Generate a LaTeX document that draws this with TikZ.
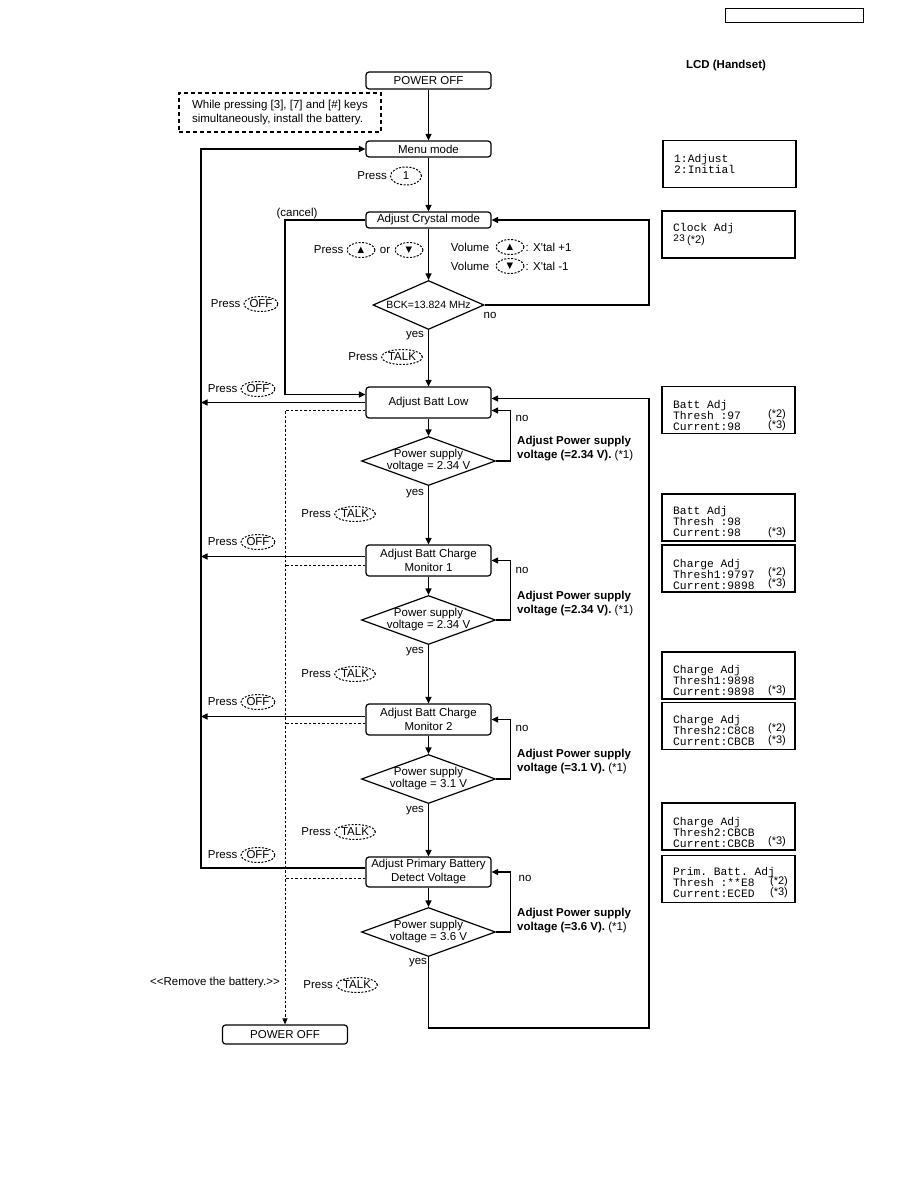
\documentclass[tikz,border=0pt]{standalone}
\usepackage{fontspec}
\setmainfont{Liberation Sans}
\setmonofont{Liberation Mono}
\newfontfamily\symfont{DejaVu Sans}
\usetikzlibrary{shapes.geometric, arrows.meta, positioning, calc}
\tikzset{
    stepbox/.style ={rectangle, rounded corners=3pt, minimum width=125pt, align=center, inner sep=1pt, draw=black, line width=1.2pt},
    decision/.style={diamond, minimum width=134pt, minimum height=49pt, inner sep=0pt, draw=black, line width=1.2pt},
    keyoval/.style ={ellipse, minimum width=28pt, minimum height=15pt, inner sep=0.5pt, draw=black, line width=1pt, dash pattern=on 2pt off 1.5pt},
    keysym/.style  ={keyoval, font=\symfont\fontsize{8.5}{9}\selectfont},
    flowarrow/.style={-{Triangle[length=6.5pt,width=6pt]}, line width=1.2pt},
    offline/.style ={line width=0.8pt, dash pattern=on 2.5pt off 2pt},
    lcd/.style     ={rectangle, minimum width=133pt, minimum height=47pt, draw=black, line width=1.2pt},
    lcdtext/.style ={anchor=west, align=left, inner sep=0pt, font=\ttfamily\fontsize{11.3}{11}\selectfont},
    lcdnote/.style ={inner sep=0pt, font=\fontsize{11}{11}\selectfont},
    txt/.style     ={inner sep=0pt},
    boldnote/.style={anchor=west, align=left, inner sep=0pt},
}

\begin{document}
\begin{tikzpicture}[x=1pt, y=-1pt]
    \fontsize{11.5}{14}\selectfont
    \useasboundingbox (0,0) rectangle (918,1188);

    % header and LCD column
    \node[draw=black, line width=0.9pt, minimum width=138pt, minimum height=14pt] (hdr) at (794,15) {};
    \node[txt, font=\bfseries] (lcdhead) at (726,66) {LCD (Handset)};

    % main flow
    \node[stepbox, minimum height=17pt] (pwrtop) at (428.5,80.5) {POWER OFF};
    \node[draw=black, line width=1.2pt, dash pattern=on 4pt off 3pt, minimum width=202pt, minimum height=39pt, align=left, inner sep=0pt] (note) at (280,112.5) {While pressing [3], [7] and [\#] keys\\simultaneously, install the battery.};
    \node[stepbox, minimum height=16pt] (menu) at (428.5,149) {Menu mode};
    \node[stepbox, minimum height=16pt] (crystal) at (428.5,220) {Adjust Crystal mode};
    \node[decision, minimum width=111pt] (bck) at (428.5,305) {};
    \node[txt, font=\fontsize{10.5}{12}\selectfont] (bcktxt) at (bck) {BCK=13.824 MHz};
    \node[stepbox, minimum height=31pt] (batt) at (428.5,402.5) {Adjust Batt Low};
    \node[decision] (dlow) at (428.5,461) {};
    \node[txt, align=center, font=\fontsize{11.5}{12}\selectfont] (dlowtxt) at (dlow) {Power supply\\voltage = 2.34 V};
    \node[stepbox, minimum height=31pt] (mon1) at (428.5,560.5) {Adjust Batt Charge\\Monitor 1};
    \node[decision] (dmon1) at (428.5,620) {};
    \node[txt, align=center, font=\fontsize{11.5}{12}\selectfont] (dmon1txt) at (dmon1) {Power supply\\voltage = 2.34 V};
    \node[stepbox, minimum height=31pt] (mon2) at (428.5,719.5) {Adjust Batt Charge\\Monitor 2};
    \node[decision] (dmon2) at (428.5,779) {};
    \node[txt, align=center, font=\fontsize{11.5}{12}\selectfont] (dmon2txt) at (dmon2) {Power supply\\voltage = 3.1 V};
    \node[stepbox, minimum height=30pt] (prim) at (428.5,872) {Adjust Primary Battery\\Detect Voltage};
    \node[decision] (dprim) at (428.5,932) {};
    \node[txt, align=center, font=\fontsize{11.5}{12}\selectfont] (dprimtxt) at (dprim) {Power supply\\voltage = 3.6 V};
    \node[stepbox, minimum height=19pt] (pwrend) at (285,1034.5) {POWER OFF};

    \foreach \a/\b in {pwrtop/menu, menu/crystal, crystal/bck, bck/batt, batt/dlow, dlow/mon1, mon1/dmon1, dmon1/mon2, mon2/dmon2, dmon2/prim, prim/dprim}
        \draw[flowarrow] (\a) -- (\b);

    % loops
    \coordinate (lefttop) at (201,149);
    \coordinate (cancelx) at (285,220);
    \coordinate (rightx) at (649,220);
    \coordinate (loopbot) at (428.5,1028);
    \coordinate (loopcorner) at (649,1028);
    \draw[flowarrow] ([yshift=4pt]prim.west) -| (lefttop) -- (menu.west);
    \draw[flowarrow] (crystal.west) -- (cancelx) |- ([yshift=8pt]batt.west);
    \draw[flowarrow] (bck.east) -| (rightx) -- (crystal.east);
    \draw[flowarrow] (dprim.south) -- (loopbot) -- (loopcorner) |- ([yshift=4pt]batt.east);
    \draw[flowarrow] (dlow.east) -- ++(14,0) |- ([yshift=-8pt]batt.east);
    \draw[flowarrow] (dmon1.east) -- ++(14,0) |- (mon1.east);
    \draw[flowarrow] (dmon2.east) -- ++(14,0) |- (mon2.east);
    \draw[flowarrow] (dprim.east) -- ++(14,0) |- (prim.east);

    % OFF exits
    \draw[flowarrow] (batt.west) -- (batt.west -| lefttop);
    \draw[flowarrow] ([yshift=4pt]mon1.west) -- ([yshift=4pt]mon1.west -| lefttop);
    \draw[flowarrow] ([yshift=3pt]mon2.west) -- ([yshift=3pt]mon2.west -| lefttop);

    % battery removed
    \draw[offline, -{Triangle[length=6pt,width=5pt]}] ([yshift=-8pt]batt.west) -| (pwrend.north);
    \draw[offline] ([yshift=-5pt]mon1.west) -- ([yshift=-5pt]mon1.west -| pwrend.north);
    \draw[offline] ([yshift=-4pt]mon2.west) -- ([yshift=-4pt]mon2.west -| pwrend.north);
    \draw[offline] ([yshift=-6pt]prim.west) -- ([yshift=-6pt]prim.west -| pwrend.north);

    % key presses
    \node[keyoval, minimum width=31pt, minimum height=18pt] (key1) at (406,176) {1};
    \node[txt, left=3pt of key1] (press1) {Press};
    \node[txt] (cancel) at (297,214) {(cancel)};
    \node[keysym] (keyup) at (361,250) {▲};
    \node[txt, left=3pt of keyup] (pressud) {Press};
    \node[txt] (ortxt) at (385,250) {or};
    \node[keysym] (keydown) at (409,250) {▼};
    \node[txt] (vol1) at (470,247) {Volume};
    \node[keysym] (volup) at (510,247) {▲};
    \node[txt, right=1pt of volup] (xtalup) {: X\textquotesingle tal +1};
    \node[txt] (vol2) at (470,266) {Volume};
    \node[keysym] (voldown) at (510,266) {▼};
    \node[txt, right=1pt of voldown] (xtaldown) {: X\textquotesingle tal -1};

    \node[keyoval, minimum width=34pt] (off1) at (261,304) {OFF};
    \node[txt, left=3pt of off1] (pressoff1) {Press};
    \node[keyoval, minimum width=34pt] (off2) at (258,389) {OFF};
    \node[txt, left=3pt of off2] (pressoff2) {Press};
    \node[keyoval, minimum width=34pt] (off3) at (258,542) {OFF};
    \node[txt, left=3pt of off3] (pressoff3) {Press};
    \node[keyoval, minimum width=34pt] (off4) at (258,702) {OFF};
    \node[txt, left=3pt of off4] (pressoff4) {Press};
    \node[keyoval, minimum width=34pt] (off5) at (258,855) {OFF};
    \node[txt, left=3pt of off5] (pressoff5) {Press};

    \node[keyoval] (talk1) at (402,357) {TALK};
    \node[txt, left=3pt of talk1] (presstalk1) {Press};
    \node[keyoval] (talk2) at (355,514) {TALK};
    \node[txt, left=3pt of talk2] (presstalk2) {Press};
    \node[keyoval] (talk3) at (355,674) {TALK};
    \node[txt, left=3pt of talk3] (presstalk3) {Press};
    \node[keyoval] (talk4) at (355,832) {TALK};
    \node[txt, left=3pt of talk4] (presstalk4) {Press};
    \node[keyoval] (talk5) at (357,985) {TALK};
    \node[txt, left=3pt of talk5] (presstalk5) {Press};

    % yes / no
    \node[txt] (nobck) at (490,315) {no};
    \node[txt] (yesbck) at (415,336) {yes};
    \node[txt] (nolow) at (522,418) {no};
    \node[txt] (yeslow) at (415,494) {yes};
    \node[txt] (nomon1) at (522,570) {no};
    \node[txt] (yesmon1) at (415,652) {yes};
    \node[txt] (nomon2) at (522,728) {no};
    \node[txt] (yesmon2) at (415,811) {yes};
    \node[txt] (noprim) at (525,878) {no};
    \node[txt] (yesprim) at (418,963) {yes};

    \node[boldnote] (adjlow) at (517,449) {\bfseries Adjust Power supply\\{\bfseries voltage (=2.34 V).} (*1)};
    \node[boldnote] (adjmon1) at (517,604) {\bfseries Adjust Power supply\\{\bfseries voltage (=2.34 V).} (*1)};
    \node[boldnote] (adjmon2) at (517,762) {\bfseries Adjust Power supply\\{\bfseries voltage (=3.1 V).} (*1)};
    \node[boldnote] (adjprim) at (517,920.5) {\bfseries Adjust Power supply\\{\bfseries voltage (=3.6 V).} (*1)};
    \node[txt] (remove) at (215,983) {{<}{<}Remove the battery.{>}{>}};

    % LCD screens
    \node[lcd] (lcdmenu) at (729.5,164) {};
    \node[lcdtext] (lcdmenutxt) at (674,163.5) {1:Adjust\\2:Initial};
    \node[lcd] (lcdclock) at (728.5,234.5) {};
    \node[lcdtext] (lcdclocktxt) at (673,235) {Clock Adj\\\raisebox{2pt}{\fontsize{10}{10}\selectfont 23}\,{\rmfamily\fontsize{11}{11}\selectfont(*2)}};
    \node[lcd] (lcdlow1) at (728.5,410) {};
    \node[lcdtext] (lcdlow1txt) at (673,415) {Batt Adj\\Thresh :97\\Current:98};
    \node[lcdnote] (lcdlow1a) at (777,415) {(*2)};
    \node[lcdnote] (lcdlow1b) at (777,426) {(*3)};
    \node[lcd] (lcdlow2) at (728.5,517.5) {};
    \node[lcdtext] (lcdlow2txt) at (673,521.5) {Batt Adj\\Thresh :98\\Current:98};
    \node[lcdnote] (lcdlow2b) at (777,533) {(*3)};
    \node[lcd] (lcdmon1a) at (728.5,568.5) {};
    \node[lcdtext] (lcdmon1atxt) at (673,574) {Charge Adj\\Thresh1:9797\\Current:9898};
    \node[lcdnote] (lcdmon1aa) at (777,573) {(*2)};
    \node[lcdnote] (lcdmon1ab) at (777,584) {(*3)};
    \node[lcd] (lcdmon1b) at (728.5,675.5) {};
    \node[lcdtext] (lcdmon1btxt) at (673,680) {Charge Adj\\Thresh1:9898\\Current:9898};
    \node[lcdnote] (lcdmon1bb) at (777,691) {(*3)};
    \node[lcd] (lcdmon2a) at (728.5,726) {};
    \node[lcdtext] (lcdmon2atxt) at (673,730.5) {Charge Adj\\Thresh2:C8C8\\Current:CBCB};
    \node[lcdnote] (lcdmon2aa) at (777,729) {(*2)};
    \node[lcdnote] (lcdmon2ab) at (777,741) {(*3)};
    \node[lcd] (lcdmon2b) at (728.5,826.5) {};
    \node[lcdtext] (lcdmon2btxt) at (673,832) {Charge Adj\\Thresh2:CBCB\\Current:CBCB};
    \node[lcdnote] (lcdmon2bb) at (777,842) {(*3)};
    \node[lcd] (lcdprim) at (728.5,879) {};
    \node[lcdtext] (lcdprimtxt) at (673,882) {Prim. Batt. Adj\\Thresh :**E8\\Current:ECED};
    \node[lcdnote] (lcdprima) at (779,882) {(*2)};
    \node[lcdnote] (lcdprimb) at (779,893) {(*3)};
\end{tikzpicture}
\end{document}
